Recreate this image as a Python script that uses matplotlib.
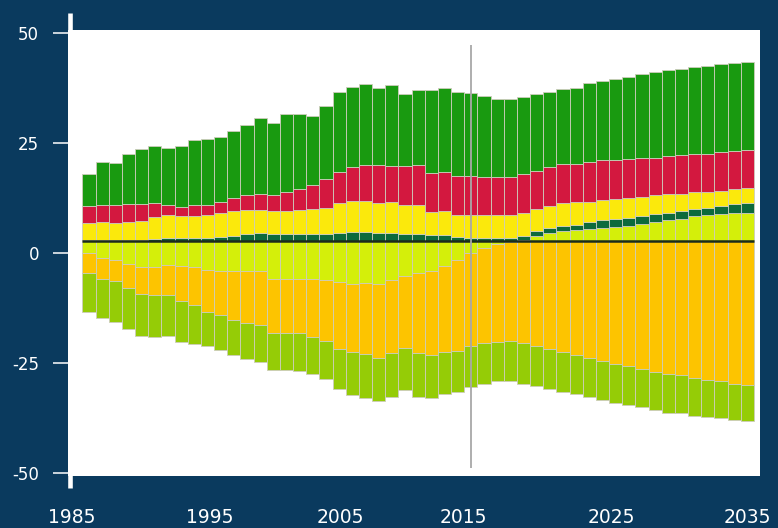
import matplotlib.pyplot as plt
import numpy as np

# ---- DATA ----
years = np.arange(1985, 2036)
baseline = 2.7      # stacks start from the black line, not from 0
marker_year = 2014  # grey vertical line

# signed: below the line until ~2017, above it afterwards
lime = [-2.8, -3.8, -4.3, -5.3, -5.8, -5.8, -5.4, -5.6, -5.9, -6.6,
        -6.8, -6.8, -6.9, -6.9, -8.5, -8.5, -8.5, -8.5, -8.8, -9.2,
        -9.8, -9.6, -9.8, -8.8, -7.9, -7.3, -6.8, -5.6, -4.3, -2.6,
        -1.5, -0.7, -0.2, 0.2, 1.2, 1.8, 2.2, 2.5, 2.7, 2.9,
        3.1, 3.4, 3.9, 4.4, 4.8, 5.1, 5.6, 5.9, 6.2, 6.5, 6.4]
dark_green = [0.25, 0.25, 0.25, 0.25, 0.25, 0.5, 0.8, 0.8, 0.8, 0.8,
              1.0, 1.2, 1.6, 1.9, 1.7, 1.7, 1.7, 1.7, 1.7, 1.9,
              2.1, 2.1, 1.9, 1.8, 1.6, 1.6, 1.4, 1.3, 1.0, 0.8,
              0.8, 0.8, 0.8, 1.0, 1.0, 1.1, 1.3, 1.2, 1.7, 1.9,
              2.0, 1.9, 1.8, 1.7, 1.7, 1.8, 1.7, 1.7, 1.8, 1.9, 2.2]
yellow = [3.8, 4.1, 3.8, 4.0, 4.3, 4.9, 5.1, 4.9, 4.9, 5.2,
          5.3, 5.7, 5.5, 5.2, 5.2, 5.2, 5.4, 5.5, 5.8, 6.7,
          7.1, 7.1, 6.8, 7.0, 6.6, 6.6, 5.2, 5.5, 5.0, 5.1,
          5.1, 5.1, 5.1, 5.2, 5.1, 5.1, 5.2, 5.2, 4.6, 4.6,
          4.4, 4.6, 4.4, 4.3, 4.2, 3.9, 3.8, 3.6, 3.5, 3.4, 3.4]
red = [4.0, 3.9, 4.2, 4.2, 4.0, 3.3, 2.4, 2.0, 2.4, 2.1,
       2.7, 3.0, 3.3, 3.6, 3.5, 4.3, 4.7, 5.5, 6.7, 7.1,
       7.7, 8.0, 8.6, 8.3, 8.9, 9.2, 8.9, 8.9, 8.9, 8.8,
       8.6, 8.6, 8.6, 8.9, 8.7, 8.9, 8.8, 8.7, 9.1, 9.1,
       8.9, 8.8, 8.7, 8.6, 8.6, 8.7, 8.6, 8.7, 8.7, 8.6, 8.7]
green = [7.1, 9.8, 9.4, 11.4, 12.4, 13.0, 12.8, 13.9, 14.9, 15.2,
         14.7, 15.2, 16.1, 17.3, 16.5, 17.6, 17.1, 15.8, 16.6, 18.2,
         18.2, 18.5, 17.6, 18.4, 16.4, 17.0, 18.9, 19.2, 19.0, 18.9,
         18.6, 17.7, 17.7, 17.5, 17.4, 16.9, 17.0, 17.3, 17.8, 18.0,
         18.5, 18.7, 19.2, 19.5, 19.5, 19.7, 19.9, 19.9, 20.0, 20.0, 20.0]
orange = [-4.5, -4.7, -4.7, -5.3, -6.3, -6.4, -6.8, -7.9, -8.6, -9.5,
          -10.0, -11.1, -11.7, -12.1, -12.5, -12.5, -12.5, -13.3, -13.9, -15.4,
          -15.5, -16.1, -16.8, -16.7, -16.5, -18.2, -19.2, -19.5, -20.6, -21.3,
          -21.7, -22.3, -22.5, -23.2, -23.8, -24.6, -25.1, -26.0, -26.5, -27.2,
          -27.9, -28.5, -29.1, -29.7, -30.2, -30.5, -31.1, -31.6, -31.9, -32.5, -32.7]
yellow_green = [-8.9, -8.9, -9.3, -9.4, -9.5, -9.6, -9.3, -9.4, -8.9, -7.8,
                -8.0, -8.0, -8.1, -8.5, -8.2, -8.3, -8.5, -8.3, -8.6, -9.0,
                -9.7, -10.0, -9.7, -9.9, -9.5, -9.9, -9.6, -9.6, -9.5, -9.2,
                -9.3, -8.9, -9.2, -9.2, -9.2, -9.0, -9.1, -8.8, -8.9, -8.9,
                -8.8, -8.7, -8.6, -8.7, -8.8, -8.6, -8.6, -8.3, -8.2, -8.2, -8.3]

yticks = [-50, -25, 0, 25, 50]
ytick_labels = ['-50', '-25', '0', '25', '50']
# the year labels sit a bit irregularly in the original
xtick_pos = [1983.7, 1994.2, 2004.1, 2013.4, 2024.7, 2035.0]
xtick_labels = ['1985', '1995', '2005', '2015', '2025', '2035']

# ---- COLOURS ----
bg = '#0a3a5e'
c_lime = '#d4ef0a'
c_dkgreen = '#0d6a3c'
c_yellow = '#fbe90c'
c_red = '#d3183f'
c_green = '#199a10'
c_orange = '#fdc400'
c_yg = '#95cc06'
edge = '#cdcdbc'

# ---- PLOTTING ----
fig = plt.figure(figsize=(7.78, 5.28), dpi=100, facecolor=bg)
ax = fig.add_axes([68 / 778, 52 / 528, 692 / 778, 446 / 528])
ax.set_facecolor('white')

lime = np.array(lime)
pos_series = [(np.clip(lime, 0, None), c_lime), (dark_green, c_dkgreen),
              (yellow, c_yellow), (red, c_red), (green, c_green)]
neg_series = [(np.clip(lime, None, 0), c_lime), (orange, c_orange),
              (yellow_green, c_yg)]

bottom = np.full(len(years), baseline)
for vals, col in pos_series:
    vals = np.asarray(vals, dtype=float)
    ax.bar(years, vals, bottom=bottom, width=1.0, color=col,
           edgecolor=edge, linewidth=0.6)
    bottom = bottom + vals

bottom = np.full(len(years), baseline)
for vals, col in neg_series:
    vals = np.asarray(vals, dtype=float)
    ax.bar(years, vals, bottom=bottom, width=1.0, color=col,
           edgecolor=edge, linewidth=0.6)
    bottom = bottom + vals

ax.hlines(baseline, years[0] - 0.5, years[-1] + 0.5, color='#1b2b1b',
          lw=1.8, zorder=3)
ax.vlines(marker_year, -48.9, 47.3, color='#a8a8a8', lw=1.3, zorder=4)

ax.set_xlim(1983.41, 2035.96)
ax.set_ylim(-50.7, 50.7)

for s in ax.spines.values():
    s.set_visible(False)
# thick white left axis line that runs past the plot area
ax.plot([0.003, 0.003], [-0.027, 1.038], transform=ax.transAxes,
        color='white', lw=3.3, clip_on=False, solid_capstyle='butt', zorder=5)

ax.set_yticks(yticks)
ax.set_yticklabels(ytick_labels)
ax.set_xticks(xtick_pos)
ax.set_xticklabels(xtick_labels)
ax.tick_params(axis='y', colors='white', length=10.8, width=1.1, pad=10,
               labelsize=12)
ax.tick_params(axis='x', colors='white', length=0, pad=23, labelsize=13.5)

fig.savefig('out.png', dpi=100, facecolor=bg)
